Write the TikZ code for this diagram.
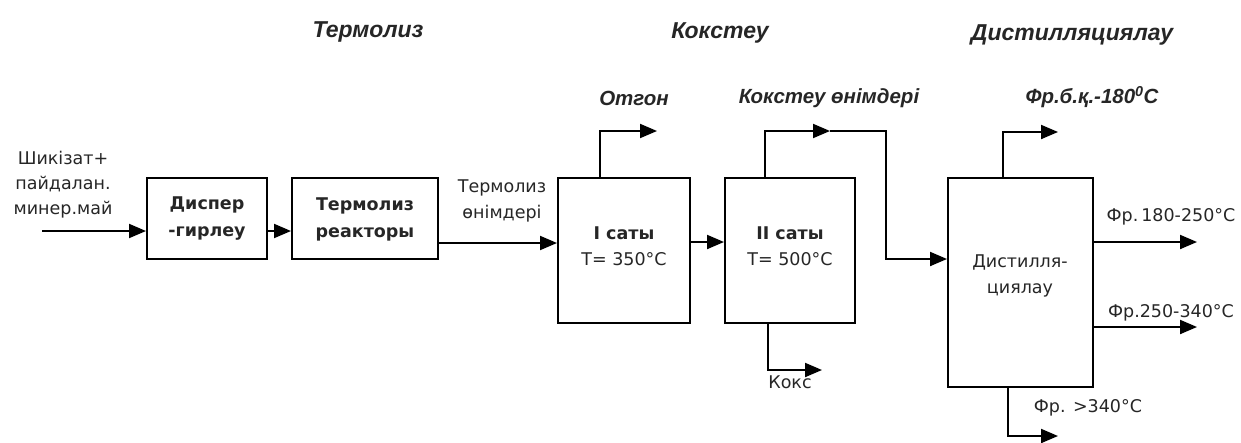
\documentclass[tikz,border=0pt]{standalone}
\usepackage{fontspec}
\setmainfont{DejaVu Sans}
\newfontfamily\itf{Liberation Sans}
\usetikzlibrary{arrows.meta}
\begin{document}
\begin{tikzpicture}[x=1pt,y=-1pt,
  box/.style={draw, line width=2pt, inner sep=0pt},
  flow/.style={line width=2pt, -{Triangle[length=17pt,width=14pt]}},
  txt/.style={font=\fontsize{17.5}{26}\selectfont, align=center, inner sep=0pt, text=black!85},
  btxt/.style={txt, font=\bfseries\fontsize{17.5}{27}\selectfont},
  ttl/.style={font=\itf\bfseries\itshape\fontsize{23}{26}\selectfont, inner sep=0pt, text=black!85},
  lbl/.style={font=\itf\bfseries\itshape\fontsize{20.5}{24}\selectfont, inner sep=0pt, text=black!85}]
\useasboundingbox (0,0) rectangle (1241,442);

% titles
\node[ttl] (t1) at (368,32) {Термолиз};
\node[ttl] (t2) at (720,33) {Кокстеу};
\node[ttl] (t3) at (1072,35) {Дистилляциялау};

% boxes
\node[box, minimum width=120pt, minimum height=81pt] (b1) at (207,218.5) {};
\node[box, minimum width=146pt, minimum height=81pt] (b2) at (365,218.5) {};
\node[box, minimum width=132pt, minimum height=145pt] (b3) at (624,250.5) {};
\node[box, minimum width=130pt, minimum height=145pt] (b4) at (790,250.5) {};
\node[box, minimum width=145pt, minimum height=209pt] (b5) at (1020.5,282.5) {};

% box texts
\node[btxt] (x1) at (207,219) {Диспер\\-гирлеу};
\node[btxt] (x2) at (365,219) {Термолиз\\реакторы};
\node[txt] (x3) at (624,246) {\textbf{I сaты}\\T= 350°C};
\node[txt] (x4) at (790,246) {\textbf{II сaты}\\T= 500°C};
\node[txt] (x5) at (1020,276) {Дистилля-\\циялау};

% side labels
\node[txt, font=\fontsize{17.5}{25}\selectfont] (in) at (63,185) {Шикізат+\\пайдалан.\\минер.май};
\node[txt] (tp) at (502,201) {Термолиз\\өнімдері};
\node[lbl] (l1) at (634,98) {Отгон};
\node[lbl] (l2) at (829,98) {Кокстеу өнімдері};
\node[lbl] (l3) at (1092,97) {Фр.б.қ.-180\textsuperscript{0}C};
\node[txt] (l4) at (1171,217) {Фр.\,180-250°C};
\node[txt] (l5) at (1171,313) {Фр.250-340°C};
\node[txt] (l6) at (1088,408) {Фр. >340°C};
\node[txt] (l7) at (790,382) {Кокс};

% coordinates
\coordinate (cin) at (42,231);
\coordinate (c12) at (267,231);
\coordinate (c23) at (438,243);
\coordinate (c34) at (690,242);
\coordinate (o1) at (600,178);
\coordinate (o1a) at (600,131);
\coordinate (o1b) at (657,131);
\coordinate (k1) at (765,178);
\coordinate (k1a) at (765,131);
\coordinate (k1m) at (830,131);
\coordinate (k1b) at (886,131);
\coordinate (k1c) at (886,259);
\coordinate (kb) at (768,323);
\coordinate (kba) at (768,370);
\coordinate (kbb) at (822,370);
\coordinate (d1) at (1003,178);
\coordinate (d1a) at (1003,132);
\coordinate (d1b) at (1058,132);
\coordinate (r1) at (1093,242);
\coordinate (r1b) at (1197,242);
\coordinate (r2) at (1093,327);
\coordinate (r2b) at (1197,327);
\coordinate (db) at (1008,387);
\coordinate (dba) at (1008,436);
\coordinate (dbb) at (1058,436);

% connectors
\draw[flow] (cin) -- (cin -| b1.west);
\draw[flow] (c12) -- (c12 -| b2.west);
\draw[flow] (c23) -- (c23 -| b3.west);
\draw[flow] (c34) -- (c34 -| b4.west);
\draw[flow] (o1) -- (o1a) -- (o1b);
\draw[flow] (k1) -- (k1a) -- (k1m);
\draw[flow] (k1m) -- (k1b) -- (k1c) -- (k1c -| b5.west);
\draw[flow] (kb) -- (kba) -- (kbb);
\draw[flow] (d1) -- (d1a) -- (d1b);
\draw[flow] (r1) -- (r1b);
\draw[flow] (r2) -- (r2b);
\draw[flow] (db) -- (dba) -- (dbb);
\end{tikzpicture}
\end{document}
